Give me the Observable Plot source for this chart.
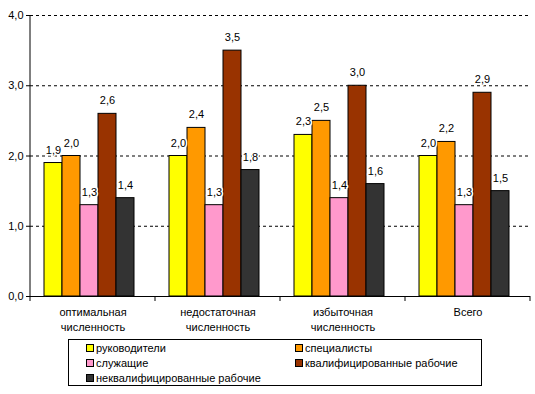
<!DOCTYPE html>
<html>
<head>
<meta charset="utf-8">
<script src="https://cdn.jsdelivr.net/npm/d3@7"></script>
<script src="https://cdn.jsdelivr.net/npm/@observablehq/plot@0.6"></script>
<style>
  html, body { margin: 0; padding: 0; background: white; }
  #wrap { position: relative; width: 535px; height: 394px; font-family: "Liberation Sans", Arial, sans-serif; font-size: 11px; color: black; }
  #chart svg { display: block; }
  #legend { position: absolute; left: 68px; top: 339px; width: 412px; height: 45px; border: 1px solid black; background: white; }
  .item { position: absolute; display: flex; align-items: center; white-space: nowrap; }
  .sw { width: 6px; height: 6px; border: 1px solid black; margin-right: 2px; }
</style>
</head>
<body>
<div id="wrap">
  <div id="chart"></div>
  <div id="legend"></div>
</div>
<script>
const groups = ["оптимальная\nчисленность", "недостаточная\nчисленность", "избыточная\nчисленность", "Всего"];
const series = ["руководители", "специалисты", "служащие", "квалифицированные рабочие", "неквалифицированные рабочие"];
const colors = ["#FFFF00", "#FF9900", "#FF99CC", "#993300", "#333333"];
const rukovoditeli = [1.9, 2.0, 2.3, 2.0];
const specialisty = [2.0, 2.4, 2.5, 2.2];
const sluzhashchie = [1.3, 1.3, 1.4, 1.3];
const kvalRabochie = [2.6, 3.5, 3.0, 2.9];
const nekvalRabochie = [1.4, 1.8, 1.6, 1.5];
const yTicks = [0, 1, 2, 3, 4];

const seriesValues = [rukovoditeli, specialisty, sluzhashchie, kvalRabochie, nekvalRabochie];
const data = [];
groups.forEach((g, gi) => series.forEach((s, si) => data.push({group: g, series: s, value: seriesValues[si][gi]})));

const fmt = v => v.toFixed(1).replace(".", ",");

const plot = Plot.plot({
  width: 535,
  height: 336,
  marginLeft: 30,
  marginRight: 5,
  marginTop: 15,
  marginBottom: 40,
  style: {fontFamily: "'Liberation Sans', Arial, sans-serif", fontSize: "11px", color: "black", background: "white"},
  fx: {domain: groups, padding: 0, label: null, axis: null},
  x: {domain: series, paddingInner: 0, paddingOuter: 0.79, align: 0.4, axis: null},
  y: {domain: [0, 4], label: null},
  color: {domain: series, range: colors},
  marks: [
    Plot.ruleY(yTicks.filter(d => d > 0), {stroke: "black", strokeDasharray: "3,3"}),
    Plot.barY(data, {fx: "group", x: "series", y: "value", fill: "series", stroke: "black", strokeWidth: 1}),
    Plot.text(data, {fx: "group", x: "series", y: "value", text: d => fmt(d.value), dy: -13, fill: "black", stroke: "white", strokeWidth: 3}),
    Plot.ruleY([0], {stroke: "black"}),
    Plot.axisY({ticks: yTicks, tickFormat: fmt, tickSize: 4, tickPadding: 3, label: null}),
    Plot.axisFx({anchor: "bottom", tickSize: 0, tickPadding: 9, label: null, lineHeight: 1.35})
  ]
});

document.getElementById("chart").appendChild(plot);

// axis line and category boundary ticks using Plot's scales
const fx = plot.scale("fx");
const y = plot.scale("y");
const svg = d3.select(plot);
const y0 = y.apply(0), y4 = y.apply(4);
const x0 = fx.apply(groups[0]);
svg.append("line").attr("x1", x0).attr("x2", x0).attr("y1", y4).attr("y2", y0).attr("stroke", "black");
const bounds = groups.map(g => fx.apply(g)).concat([fx.apply(groups[groups.length - 1]) + fx.bandwidth]);
bounds.forEach(b => svg.append("line").attr("x1", b).attr("x2", b).attr("y1", y0).attr("y2", y0 + 5).attr("stroke", "black"));

// legend
const legend = document.getElementById("legend");
const pos = [[17, 2], [226, 2], [17, 17], [226, 17], [17, 32]];
series.forEach((s, i) => {
  const it = document.createElement("div");
  it.className = "item";
  it.style.left = pos[i][0] + "px";
  it.style.top = pos[i][1] + "px";
  const sw = document.createElement("div");
  sw.className = "sw";
  sw.style.background = colors[i];
  const t = document.createElement("span");
  t.textContent = s;
  it.appendChild(sw);
  it.appendChild(t);
  legend.appendChild(it);
});
</script>
</body>
</html>
